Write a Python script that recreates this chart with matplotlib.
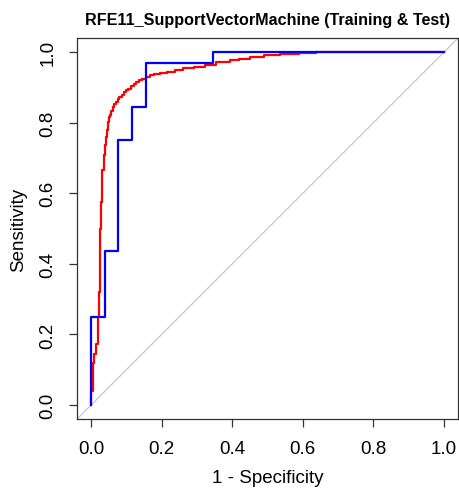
import matplotlib
matplotlib.use("Agg")
import matplotlib.pyplot as plt

plt.rcParams["font.family"] = ["Liberation Sans", "DejaVu Sans"]

# ROC corner points, 1 - specificity vs sensitivity
train_fpr = [0.0, 0.004, 0.008, 0.013, 0.019, 0.022, 0.025, 0.028, 0.031, 0.035,
             0.038, 0.041, 0.044, 0.047, 0.051, 0.054, 0.057, 0.061, 0.065, 0.070,
             0.075, 0.080, 0.086, 0.092, 0.098, 0.105, 0.112, 0.120, 0.128, 0.136,
             0.145, 0.155, 0.166, 0.178, 0.195, 0.215, 0.237, 0.260, 0.290, 0.322,
             0.355, 0.393, 0.420, 0.449, 0.490, 0.534, 0.590, 0.638, 1.0]
train_tpr = [0.0, 0.040, 0.120, 0.144, 0.172, 0.250, 0.320, 0.500, 0.574, 0.667,
             0.710, 0.737, 0.760, 0.780, 0.803, 0.815, 0.822, 0.832, 0.845, 0.853,
             0.860, 0.866, 0.874, 0.880, 0.886, 0.892, 0.897, 0.904, 0.911, 0.916,
             0.921, 0.925, 0.930, 0.935, 0.938, 0.941, 0.944, 0.950, 0.955, 0.958,
             0.965, 0.973, 0.977, 0.981, 0.987, 0.991, 0.995, 0.998, 1.0]

test_fpr = [0.0, 0.0385, 0.077, 0.115, 0.154, 0.346, 1.0]
test_tpr = [0.0, 0.250, 0.4375, 0.750, 0.844, 0.969, 1.0]

ticks = [0.0, 0.2, 0.4, 0.6, 0.8, 1.0]
title = "RFE11_SupportVectorMachine (Training & Test)"

fig = plt.figure(figsize=(4.59, 4.89), dpi=100)
ax = fig.add_axes([0.168, 0.141, 0.830, 0.779])

ax.plot([-0.1, 1.1], [-0.1, 1.1], color="#c8c8c8", lw=0.9, zorder=1)
ax.plot(train_fpr, train_tpr, drawstyle="steps-pre", color="red", lw=1.6, zorder=2)
ax.plot(test_fpr, test_tpr, drawstyle="steps-pre", color="blue", lw=1.6, zorder=3)

ax.set_xlim(-0.04, 1.04)
ax.set_ylim(-0.04, 1.04)
ax.set_xticks(ticks)
ax.set_yticks(ticks)
ax.set_xticklabels([f"{t:.1f}" for t in ticks])
ax.set_yticklabels([f"{t:.1f}" for t in ticks], rotation=90, va="center")
ax.tick_params(length=6, width=0.9, color="#333333", labelsize=13.5, pad=9)
for s in ax.spines.values():
    s.set_color("#333333")
    s.set_linewidth(0.9)

ax.set_xlabel("1 - Specificity", fontsize=13.5, labelpad=9)
ax.set_ylabel("Sensitivity", fontsize=13.5, labelpad=9)
ax.set_title(title, fontsize=11.6, fontweight="bold", pad=10)

fig.savefig("out.png", dpi=100)
